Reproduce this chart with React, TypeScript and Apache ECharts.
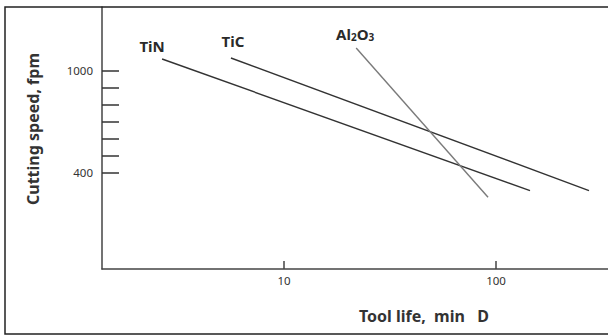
import React, { useEffect, useRef } from "react";
import * as echarts from "echarts";

// Tool life (min) and cutting speed (fpm) end points of each coating line
const tinLife = [2.66, 144.7];
const tinSpeed = [1070, 296];
const ticLife = [5.62, 274.6];
const ticSpeed = [1076, 296];
const aloLife = [21.9, 91.7];
const aloSpeed = [1135, 257];

const yTickValues = [400, 500, 600, 700, 800, 900, 1000];
const yLabelValues = [400, 1000];
const xLabelValues = [10, 100];

const FONT = "Noto Sans";

function pts(xs: number[], ys: number[]) {
  return xs.map((x, i) => [x, ys[i]]);
}

export default function App() {
  const ref = useRef<HTMLDivElement>(null);
  useEffect(() => {
    if (!ref.current) return;
    const chart = echarts.init(ref.current, undefined, { renderer: "svg" });
    const lineSeries = (
      name: string,
      xs: number[],
      ys: number[],
      color: string,
      labelText: string,
      offset: number[],
      rich?: any
    ) => {
      return {
        name,
        type: "line",
        data: pts(xs, ys),
        symbol: "none",
        showSymbol: false,
        lineStyle: { color, width: 1.4 },
        markPoint: {
          symbol: "circle",
          symbolSize: 0,
          silent: true,
          data: [
            {
              coord: [xs[0], ys[0]],
              label: {
                show: true,
                formatter: labelText,
                position: "inside",
                offset,
                fontFamily: FONT,
                fontWeight: "bold",
                fontSize: 15,
                color: "#2a2a2a",
                rich,
              },
            },
          ],
        },
      };
    };
    chart.setOption({
      animation: false,
      backgroundColor: "#fff",
      grid: { left: 102, top: 7, right: 0, bottom: 66 },
      xAxis: {
        type: "log",
        logBase: 10,
        min: 1.385,
        max: 337.5,
        name: "Tool life,  min   D",
        nameLocation: "middle",
        nameGap: 39,
        nameTextStyle: {
          fontFamily: FONT,
          fontWeight: "bold",
          fontSize: 16,
          color: "#333",
          padding: [0, 0, 0, 138],
        },
        axisLine: {
          show: true,
          onZero: false,
          lineStyle: { color: "#444", width: 1.5 },
        },
        axisTick: {
          show: true,
          inside: true,
          length: 8,
          customValues: xLabelValues,
          lineStyle: { color: "#444", width: 1.5 },
        },
        axisLabel: {
          customValues: xLabelValues,
          margin: 5,
          fontFamily: FONT,
          fontSize: 11.5,
          color: "#333",
          formatter: (v: number) => String(Math.round(v)),
        },
        splitLine: { show: false },
        minorTick: { show: false },
      },
      yAxis: {
        type: "value",
        min: -165,
        max: 1376,
        name: "Cutting speed, fpm",
        nameLocation: "middle",
        nameGap: 61,
        nameTextStyle: {
          fontFamily: FONT,
          fontWeight: "bold",
          fontSize: 16,
          color: "#333",
          padding: [0, 0, 0, 18],
        },
        axisLine: {
          show: true,
          onZero: false,
          lineStyle: { color: "#444", width: 1.5 },
        },
        axisTick: {
          show: true,
          inside: true,
          length: 17,
          customValues: yTickValues,
          lineStyle: { color: "#333", width: 1.5 },
        },
        axisLabel: {
          customValues: yLabelValues,
          margin: 9,
          fontFamily: FONT,
          fontSize: 11.5,
          color: "#333",
          formatter: (v: number) => String(v),
        },
        splitLine: { show: false },
      },
      series: [
        lineSeries("TiN", tinLife, tinSpeed, "#333", "TiN", [-10, -13]),
        lineSeries("TiC", ticLife, ticSpeed, "#333", "TiC", [2, -17]),
        lineSeries(
          "Al2O3",
          aloLife,
          aloSpeed,
          "#7a7a7a",
          "{n|Al}{s|2}{n|O}{s|3}",
          [-1, -14],
          {
            n: { fontFamily: FONT, fontWeight: "bold", fontSize: 15, color: "#2a2a2a" },
            s: {
              fontFamily: FONT,
              fontWeight: "bold",
              fontSize: 10,
              color: "#2a2a2a",
              padding: [7, 0, 0, 0],
            },
          }
        ),
      ],
      graphic: [
        {
          type: "rect",
          shape: { x: 5, y: 7, width: 620, height: 327 },
          style: { fill: "none", stroke: "#222", lineWidth: 1.5 },
          silent: true,
          z: 100,
        },
      ],
    });
    return () => chart.dispose();
  }, []);
  return (
    <div
      ref={ref}
      style={{ position: "fixed", left: 0, top: 0, width: 608, height: 335 }}
    />
  );
}
